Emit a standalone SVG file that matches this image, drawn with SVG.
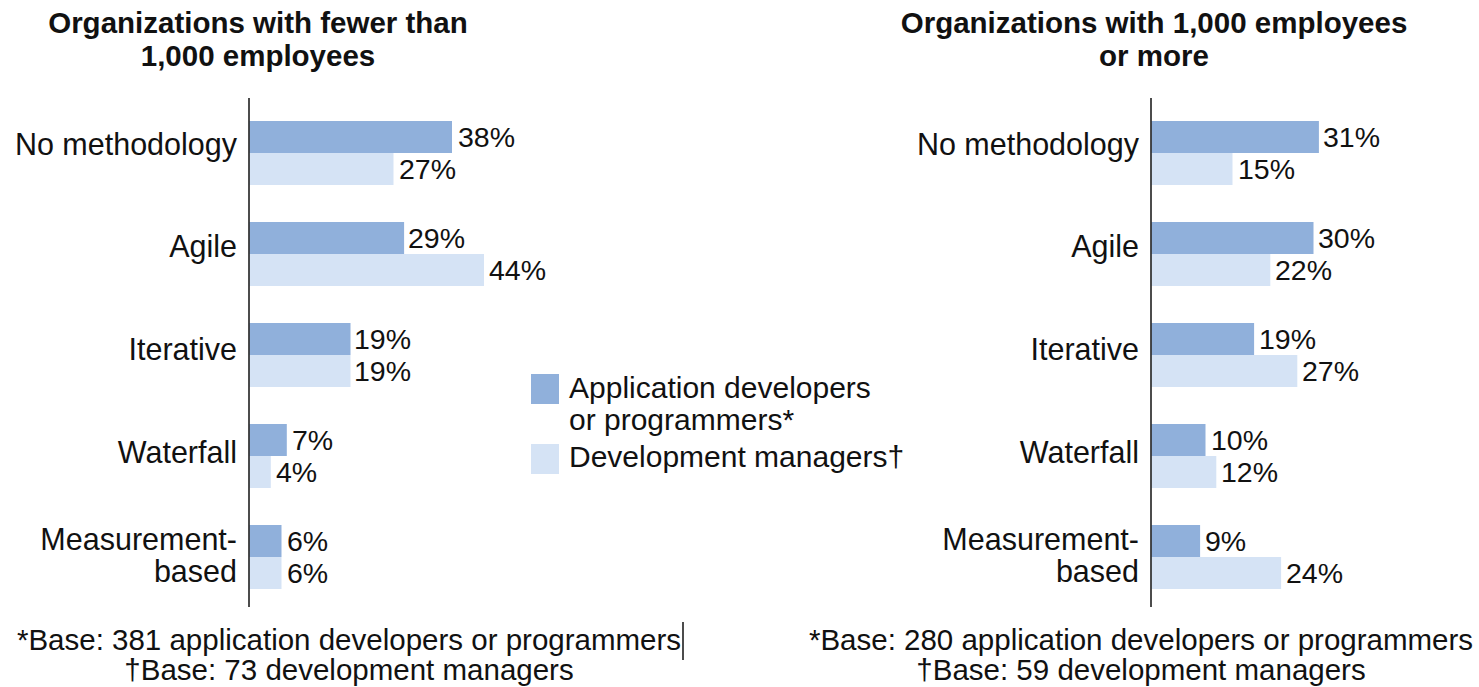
<svg xmlns="http://www.w3.org/2000/svg" width="1479" height="687" viewBox="0 0 1479 687">
<style>
text{font-family:"Liberation Sans",Arial,sans-serif;fill:#111;}
.t{font-size:29.5px;font-weight:bold;text-anchor:middle;}
.c{font-size:30.5px;text-anchor:end;}
.v{font-size:28.5px;}
.f{font-size:29.5px;text-anchor:middle;}
.lg{font-size:30px;}
.d{fill:#90B0DB;}
.l{fill:#D5E3F5;}
.ax{stroke:#111;stroke-width:1.5;}
</style>
<rect width="1479" height="687" fill="#fff"/>
<g id="left-chart">
<text class="t" x="258" y="33">Organizations with fewer than</text>
<text class="t" x="258" y="66">1,000 employees</text>
<g id="l-nometh"><rect class="d" x="249.5" y="121" width="202.5" height="32"/><rect class="l" x="249.5" y="153" width="144" height="32"/>
<text class="c" x="237" y="155">No methodology</text><text class="v" x="458" y="147">38%</text><text class="v" x="399" y="179">27%</text></g>
<g id="l-agile"><rect class="d" x="249.5" y="222" width="154.6" height="32"/><rect class="l" x="249.5" y="254" width="234.5" height="32"/>
<text class="c" x="237" y="257">Agile</text><text class="v" x="408" y="248">29%</text><text class="v" x="489" y="280">44%</text></g>
<g id="l-iter"><rect class="d" x="249.5" y="323" width="101" height="32"/><rect class="l" x="249.5" y="355" width="101" height="32"/>
<text class="c" x="237" y="360">Iterative</text><text class="v" x="354" y="349">19%</text><text class="v" x="354" y="381">19%</text></g>
<g id="l-water"><rect class="d" x="249.5" y="424" width="37.3" height="32"/><rect class="l" x="249.5" y="456" width="21.3" height="32"/>
<text class="c" x="237" y="463">Waterfall</text><text class="v" x="292" y="450">7%</text><text class="v" x="276" y="482">4%</text></g>
<g id="l-meas"><rect class="d" x="249.5" y="525" width="32" height="32"/><rect class="l" x="249.5" y="557" width="32" height="32"/>
<text class="c" x="237" y="550">Measurement-</text><text class="c" x="237" y="582">based</text><text class="v" x="287" y="551">6%</text><text class="v" x="287" y="583">6%</text></g>
<line class="ax" x1="249" y1="98" x2="249" y2="607"/>
<text class="f" x="349" y="650">*Base: 381 application developers or programmers</text>
<text class="f" x="349" y="680">†Base: 73 development managers</text>
<line class="ax" x1="683" y1="622" x2="683" y2="660" stroke-width="1.2"/>
</g>
<g id="legend">
<rect class="d" x="531" y="374" width="28" height="30"/>
<rect class="l" x="531" y="444" width="28" height="30"/>
<text class="lg" x="569" y="398">Application developers</text>
<text class="lg" x="569" y="430">or programmers*</text>
<text class="lg" x="569" y="467">Development managers†</text>
</g>
<g id="right-chart">
<text class="t" x="1154" y="33">Organizations with 1,000 employees</text>
<text class="t" x="1154" y="66">or more</text>
<g id="r-nometh"><rect class="d" x="1151.5" y="121" width="167.4" height="32"/><rect class="l" x="1151.5" y="153" width="81" height="32"/>
<text class="c" x="1139" y="155">No methodology</text><text class="v" x="1323" y="147">31%</text><text class="v" x="1238" y="179">15%</text></g>
<g id="r-agile"><rect class="d" x="1151.5" y="222" width="162" height="32"/><rect class="l" x="1151.5" y="254" width="118.8" height="32"/>
<text class="c" x="1139" y="257">Agile</text><text class="v" x="1318" y="248">30%</text><text class="v" x="1275" y="280">22%</text></g>
<g id="r-iter"><rect class="d" x="1151.5" y="323" width="102.6" height="32"/><rect class="l" x="1151.5" y="355" width="145.8" height="32"/>
<text class="c" x="1139" y="360">Iterative</text><text class="v" x="1259" y="349">19%</text><text class="v" x="1302" y="381">27%</text></g>
<g id="r-water"><rect class="d" x="1151.5" y="424" width="54" height="32"/><rect class="l" x="1151.5" y="456" width="64.8" height="32"/>
<text class="c" x="1139" y="463">Waterfall</text><text class="v" x="1211" y="450">10%</text><text class="v" x="1221" y="482">12%</text></g>
<g id="r-meas"><rect class="d" x="1151.5" y="525" width="48.6" height="32"/><rect class="l" x="1151.5" y="557" width="129.6" height="32"/>
<text class="c" x="1139" y="550">Measurement-</text><text class="c" x="1139" y="582">based</text><text class="v" x="1205" y="551">9%</text><text class="v" x="1286" y="583">24%</text></g>
<line class="ax" x1="1151" y1="98" x2="1151" y2="607"/>
<text class="f" x="1141" y="650">*Base: 280 application developers or programmers</text>
<text class="f" x="1141" y="680">†Base: 59 development managers</text>
</g>
</svg>
